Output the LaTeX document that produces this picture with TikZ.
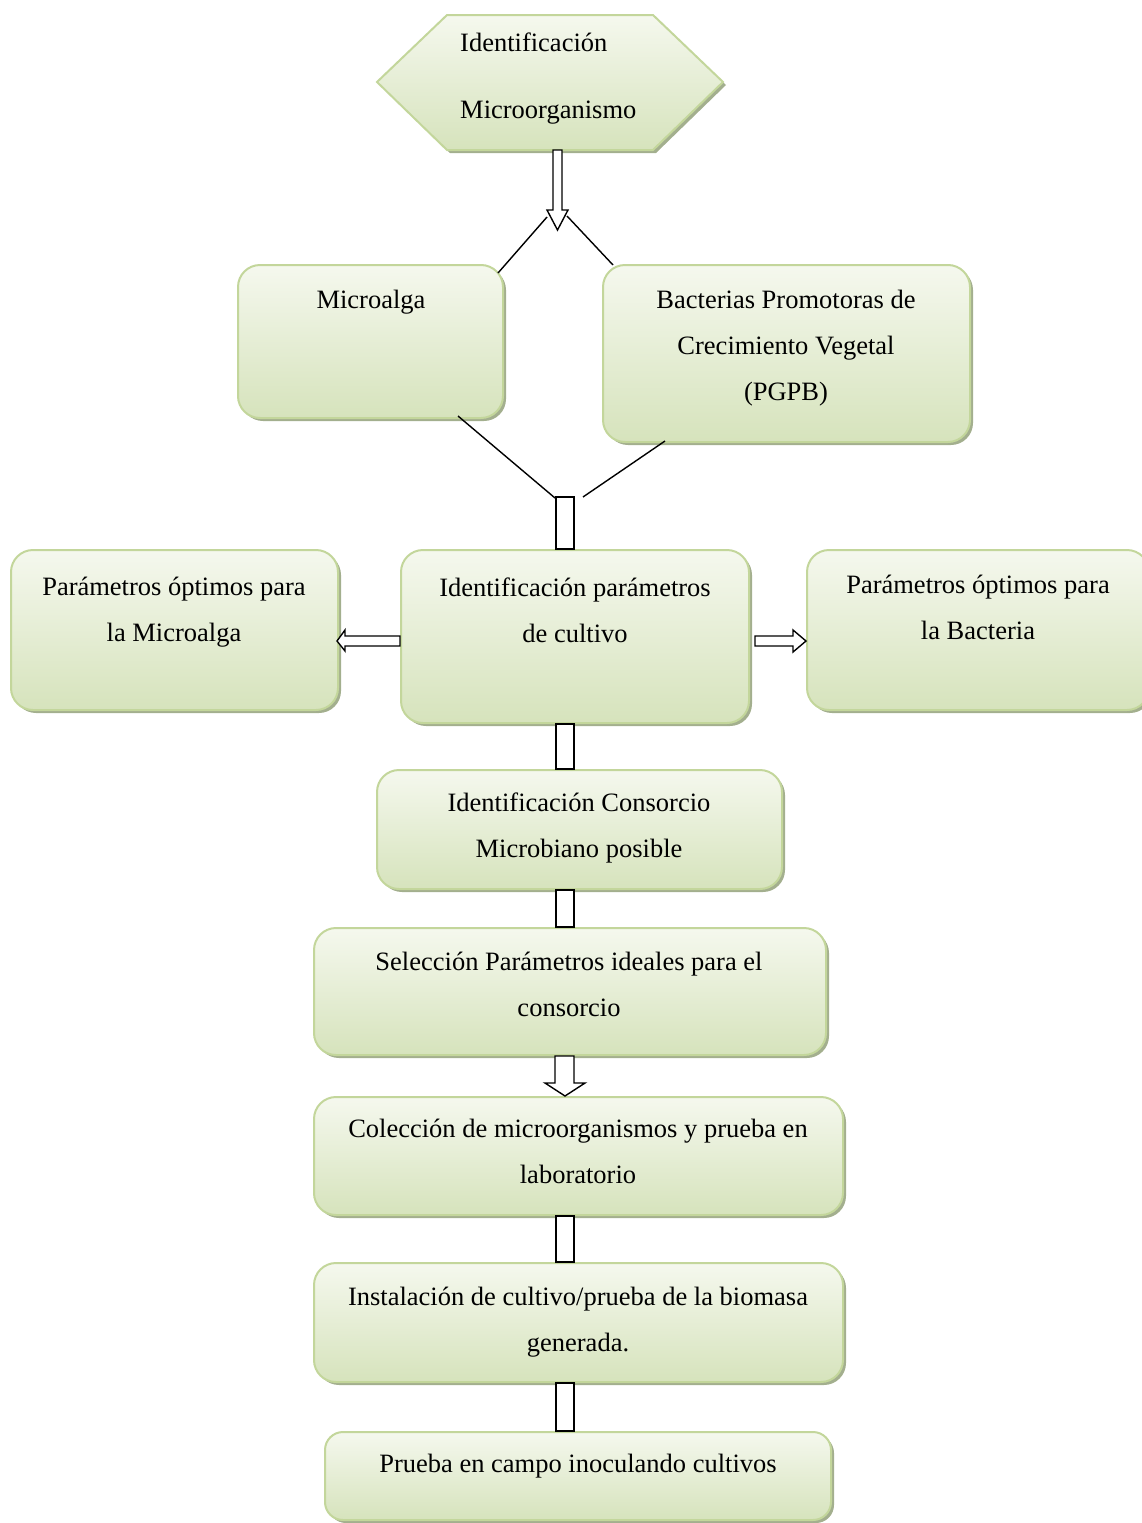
\documentclass[tikz,border=0pt]{standalone}
\usepackage{fontspec}
\setmainfont{Liberation Serif}
\usetikzlibrary{shadows,calc}
\definecolor{bordc}{HTML}{C3D69B}
\definecolor{topc}{HTML}{F5F8EE}
\definecolor{botc}{HTML}{D6E3BC}
\definecolor{shadc}{HTML}{A3AF8E}
\tikzset{
  box/.style={rectangle, rounded corners=22pt, draw=bordc, line width=2pt,
    top color=topc, bottom color=botc, inner sep=0pt,
    general shadow={fill=shadc, shadow xshift=3pt, shadow yshift=-3pt}},
  txt/.style={font=\fontsize{26.5}{46}\selectfont, align=center, inner sep=0pt, anchor=base},
  blk/.style={draw=black, line width=1.4pt, fill=white},
  ln/.style={draw=black, line width=1.4pt}
}
\begin{document}
\begin{tikzpicture}[x=1pt,y=-1pt]
\useasboundingbox (0,0) rectangle (1141,1523);
% hexagon
\path[draw=bordc, line width=2pt, top color=topc, bottom color=botc,
  general shadow={fill=shadc, shadow xshift=3pt, shadow yshift=-3pt}]
  (447,15) -- (653,15) -- (723,82) -- (653,150) -- (447,150) -- (377,82) -- cycle;
\coordinate (hexb) at (557.5,150);
\node[txt, anchor=base west] (h1) at (460,51) {Identificación};
\node[txt, anchor=base west] (h2) at (460,118) {Microorganismo};
% boxes
\node[box, minimum width=265pt, minimum height=153pt] (micro) at (370.5,341.5) {};
\node[box, minimum width=367pt, minimum height=177pt] (bact) at (786.5,353.5) {};
\node[box, minimum width=348pt, minimum height=173pt] (cent) at (575,636.5) {};
\node[box, minimum width=327pt, minimum height=160pt] (left) at (174.5,630) {};
\node[box, minimum width=342pt, minimum height=160pt] (right) at (978,630) {};
\node[box, minimum width=405pt, minimum height=119pt] (cons) at (579.5,829.5) {};
\node[box, minimum width=512pt, minimum height=127pt] (sel) at (570,991.5) {};
\node[box, minimum width=529pt, minimum height=118pt] (col) at (578.5,1156) {};
\node[box, minimum width=529pt, minimum height=119pt] (ins) at (578.5,1322.5) {};
\node[box, rounded corners=18pt, minimum width=506pt, minimum height=88pt] (pru) at (578,1476) {};
% texts (anchor=base is the baseline of the last line)
\node[txt] (tmicro) at (371,308) {Microalga};
\node[txt] (tbact) at (786,400) {Bacterias Promotoras de\\Crecimiento Vegetal\\(PGPB)};
\node[txt] (tcent) at (575,642) {Identificación parámetros\\de cultivo};
\node[txt] (tleft) at (174,641) {Parámetros óptimos para\\la Microalga};
\node[txt] (tright) at (978,639) {Parámetros óptimos para\\la Bacteria};
\node[txt] (tcons) at (579,857) {Identificación Consorcio\\Microbiano posible};
\node[txt] (tsel) at (569,1016) {Selección Parámetros ideales para el\\consorcio};
\node[txt] (tcol) at (578,1183) {Colección de microorganismos y prueba en\\laboratorio};
\node[txt] (tins) at (578,1351) {Instalación de cultivo/prueba de la biomasa\\generada.};
\node[txt] (tpru) at (578,1472) {Prueba en campo inoculando cultivos};
% top arrow
\draw[blk] (553,0 |- hexb) -- (553,210) -- (547,210) -- (557.5,230) -- (568,210) -- (562,210) -- (562,0 |- hexb) -- cycle;
% lines to boxes
\coordinate (tl) at (547,217);
\coordinate (tr) at (567,216);
\draw[ln] (tl) -- (498,273);
\draw[ln] (tr) -- (613,265);
\coordinate (jl) at (555,498);
\coordinate (jr) at (583,497);
\draw[ln] (458,416) -- (jl);
\draw[ln] (665,441) -- (jr);
\draw[blk] (556,497) rectangle (574,0 |- cent.north);
% side arrows
\draw[blk] (cent.west |- 0,636) -- (345,636) -- (345,630) -- (337,641) -- (345,651) -- (345,646) -- (cent.west |- 0,646) -- cycle;
\draw[blk] (755,636) -- (793,636) -- (793,630) -- (right.west |- 0,641) -- (793,652) -- (793,646) -- (755,646) -- cycle;
% vertical shafts
\draw[blk] (556,0 |- cent.south) rectangle (574,0 |- cons.north);
\draw[blk] (556,0 |- cons.south) rectangle (574,0 |- sel.north);
\draw[blk] (555,0 |- sel.south) -- (555,1083) -- (545,1083) -- (565,0 |- col.north) -- (585,1083) -- (574,1083) -- (574,0 |- sel.south) -- cycle;
\draw[blk] (556,0 |- col.south) rectangle (574,0 |- ins.north);
\draw[blk] (556,0 |- ins.south) rectangle (574,0 |- pru.north);
\end{tikzpicture}
\end{document}
